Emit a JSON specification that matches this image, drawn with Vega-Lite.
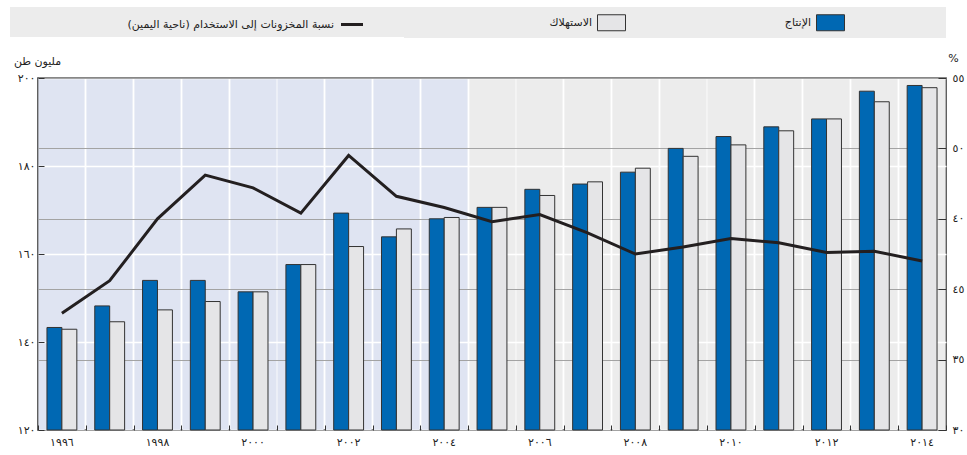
{
  "$schema": "https://vega.github.io/schema/vega-lite/v6.json",
  "width": 908,
  "height": 352,
  "autosize": {"type": "none"},
  "padding": {"left": 38, "top": 78, "right": 21, "bottom": 25},
  "background": "white",
  "config": {
    "view": {"fill": "white", "stroke": "#2b2b2b", "strokeWidth": 1.5},
    "font": "DejaVu Sans",
    "axis": {"labelFont": "DejaVu Sans", "labelFontSize": 11, "labelColor": "#222222", "titleFont": "DejaVu Sans", "titleFontWeight": "normal", "titleFontSize": 11, "titleColor": "#222222", "domain": false},
    "legend": {"labelFont": "DejaVu Sans", "labelFontSize": 11, "labelColor": "#222222", "labelLimit": 400, "labelAlign": "right", "fillColor": "#ececec", "direction": "horizontal", "orient": "none"}
  },
  "data": {
    "values": [
      {"year": "1996", "production": 143.3, "consumption": 142.9, "ratio": 38.3},
      {"year": "1997", "production": 148.2, "consumption": 144.6, "ratio": 40.6},
      {"year": "1998", "production": 154.0, "consumption": 147.3, "ratio": 45.0},
      {"year": "1999", "production": 154.0, "consumption": 149.2, "ratio": 48.1},
      {"year": "2000", "production": 151.4, "consumption": 151.4, "ratio": 47.2},
      {"year": "2001", "production": 157.6, "consumption": 157.6, "ratio": 45.4},
      {"year": "2002", "production": 169.3, "consumption": 161.7, "ratio": 49.5},
      {"year": "2003", "production": 163.9, "consumption": 165.7, "ratio": 46.6},
      {"year": "2004", "production": 168.0, "consumption": 168.3, "ratio": 45.8},
      {"year": "2005", "production": 170.6, "consumption": 170.6, "ratio": 44.8},
      {"year": "2006", "production": 174.7, "consumption": 173.3, "ratio": 45.3},
      {"year": "2007", "production": 175.9, "consumption": 176.4, "ratio": 44.0},
      {"year": "2008", "production": 178.6, "consumption": 179.5, "ratio": 42.5},
      {"year": "2009", "production": 184.0, "consumption": 182.2, "ratio": 43.0},
      {"year": "2010", "production": 186.7, "consumption": 184.8, "ratio": 43.6},
      {"year": "2011", "production": 188.9, "consumption": 188.0, "ratio": 43.3},
      {"year": "2012", "production": 190.7, "consumption": 190.7, "ratio": 42.6},
      {"year": "2013", "production": 197.0, "consumption": 194.6, "ratio": 42.7},
      {"year": "2014", "production": 198.3, "consumption": 197.8, "ratio": 42.0}
    ]
  },
  "layer": [
    {
      "transform": [{"fold": ["production", "consumption"], "as": ["series", "value"]}],
      "mark": {"type": "bar", "stroke": "#333333", "strokeWidth": 1},
      "encoding": {
        "x": {
          "field": "year", "type": "nominal",
          "scale": {"paddingInner": 0, "paddingOuter": 0},
          "axis": {
            "orient": "bottom", "title": null, "labels": false, "grid": false, "domain": false,
            "ticks": true, "tickBand": "extent", "tickSize": -5, "tickColor": "#333333", "tickWidth": 1,
            "minExtent": 0, "maxExtent": 0
          }
        },
        "xOffset": {"field": "series", "type": "nominal", "scale": {"domain": ["production", "consumption"], "paddingOuter": 0.6, "paddingInner": 0}},
        "y": {
          "field": "value", "type": "quantitative",
          "scale": {"domain": [120, 200], "nice": false, "zero": false},
          "axis": {
            "title": "مليون طن", "titleAngle": 0, "titleX": -1, "titleY": -17, "titleAlign": "center", "titleBaseline": "middle",
            "values": [120, 140, 160, 180, 200],
            "labelExpr": "datum.value == 120 ? '١٢٠' : datum.value == 140 ? '١٤٠' : datum.value == 160 ? '١٦٠' : datum.value == 180 ? '١٨٠' : '٢٠٠'",
            "grid": true, "gridColor": "#ffffff", "gridWidth": 1.5, "gridOpacity": 1,
            "tickSize": -6, "tickColor": "#333333", "tickWidth": 1, "labelPadding": 9
          }
        },
        "y2": {"datum": 120},
        "color": {
          "field": "series", "type": "nominal",
          "scale": {"domain": ["consumption", "production"], "range": ["#e5e5e7", "#0068b3"]},
          "legend": {
            "legendX": 366, "legendY": -71,
            "title": " ", "titleOrient": "right", "titlePadding": 94, "titleFontSize": 11,
            "padding": 5, "symbolSize": 400, "symbolType": "M-1.4,-0.8L1.4,-0.8L1.4,0.8L-1.4,0.8Z",
            "symbolStrokeColor": "#333333", "symbolStrokeWidth": 1, "symbolOpacity": 1,
            "symbolOffset": 192, "labelOffset": -30, "columnPadding": 0,
            "labelExpr": "datum.value == 'production' ? 'الإنتاج' : 'الاستهلاك'"
          }
        }
      }
    },
    {
      "mark": {"type": "line", "strokeWidth": 3},
      "encoding": {
        "x": {
          "field": "year", "type": "nominal",
          "axis": {
            "orient": "bottom", "title": null, "ticks": false, "domain": false, "labelAngle": 0, "labelPadding": 6,
            "labelExpr": "toNumber(datum.value) % 2 == 0 ? replace(replace(replace(replace(replace(replace(replace(datum.value, regexp('0','g'), '٠'), regexp('1','g'), '١'), regexp('2','g'), '٢'), regexp('4','g'), '٤'), regexp('6','g'), '٦'), regexp('8','g'), '٨'), regexp('9','g'), '٩') : ''",
            "grid": true, "gridWidth": 46.2, "gridOpacity": 1,
            "gridColor": {"condition": {"test": "toNumber(datum.value) <= 2004", "value": "#dfe4f2"}, "value": "#ececec"}
          }
        },
        "y": {
          "field": "ratio", "type": "quantitative",
          "scale": {"domain": [30, 55], "nice": false, "zero": false},
          "axis": {
            "orient": "right", "title": "%", "titleAngle": 0, "titleX": 7, "titleY": -20, "titleAlign": "center", "titleBaseline": "middle",
            "values": [30, 35, 40, 45, 50, 55],
            "labelExpr": "datum.value == 30 ? '٣٠' : datum.value == 35 ? '٣٥' : datum.value == 40 ? '٤٥' : datum.value == 45 ? '٤٠' : datum.value == 50 ? '٥٠' : '٥٥'",
            "grid": true, "gridColor": "#a3a3a3", "gridWidth": 1, "gridOpacity": 1,
            "tickSize": -8, "tickColor": "#333333", "tickWidth": 1, "labelPadding": 14
          }
        },
        "stroke": {
          "datum": "ratio",
          "scale": {"domain": ["ratio"], "range": ["#231f20"]},
          "legend": {
            "legendX": -28, "legendY": -71,
            "title": " ", "titleOrient": "right", "titlePadding": 36, "titleFontSize": 11,
            "padding": 6, "symbolSize": 400, "symbolType": "M-1.1,0L1.1,0",
            "symbolStrokeWidth": 3, "symbolOpacity": 1,
            "symbolOffset": 324.5, "labelOffset": -29.5,
            "labelExpr": "'نسبة المخزونات إلى الاستخدام (ناحية اليمين)'"
          }
        }
      }
    }
  ],
  "resolve": {"scale": {"y": "independent"}, "axis": {"x": "independent", "y": "independent"}}
}
